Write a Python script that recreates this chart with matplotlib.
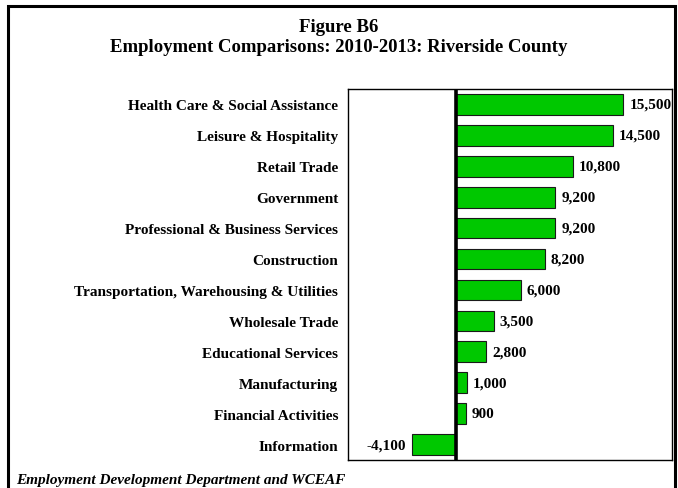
import matplotlib.pyplot as plt
from matplotlib.patches import Rectangle

plt.rcParams['font.family'] = ['Liberation Serif', 'DejaVu Serif']

categories = ['Health Care & Social Assistance', 'Leisure & Hospitality', 'Retail Trade',
              'Government', 'Professional & Business Services', 'Construction',
              'Transportation, Warehousing & Utilities', 'Wholesale Trade',
              'Educational Services', 'Manufacturing', 'Financial Activities', 'Information']
changes = [15500, 14500, 10800, 9200, 9200, 8200, 6000, 3500, 2800, 1000, 900, -4100]

fig = plt.figure(figsize=(6.78, 4.89), dpi=100)
# plot box in pixels: x 348..672, y 90..461
W, H = 678, 489
ax = fig.add_axes([348 / W, 1 - 461 / H, (672 - 348) / W, (461 - 90) / H])

ypos = list(range(len(categories)))
ax.barh(ypos, changes, height=0.67, color='#00c800', edgecolor='#1a1a1a', linewidth=0.8, zorder=2)
ax.axvline(0, color='black', linewidth=2.6, zorder=3)

ax.set_xlim(-10000, 20000)
ax.set_ylim(len(categories) - 0.5, -0.5)
ax.set_xticks([])
ax.set_yticks(ypos)
ax.set_yticklabels(categories, fontsize=11, fontweight='bold')
ax.tick_params(axis='y', length=0, pad=7)
for s in ax.spines.values():
    s.set_linewidth(1.0)

for y, v in zip(ypos, changes):
    txt = f'{v:,}'
    if v >= 0:
        ax.text(v + 550, y, txt, va='center', ha='left', fontsize=11, fontweight='bold')
    else:
        ax.text(v - 550, y, txt, va='center', ha='right', fontsize=11, fontweight='bold')

fig.text(0.5, 1 - 27 / H, 'Figure B6', ha='center', va='center', fontsize=13.5, fontweight='bold')
fig.text(0.5, 1 - 48 / H, 'Employment Comparisons: 2010-2013: Riverside County',
         ha='center', va='center', fontsize=13.5, fontweight='bold')
fig.text(16 / W, 1 - 481 / H, 'Employment Development Department and WCEAF',
         ha='left', va='center', fontsize=11, fontweight='bold', style='italic')

# outer frame
fig.patches.append(Rectangle((8 / W, -0.05), (675 - 8) / W, 1.05 - 7 / H,
                             transform=fig.transFigure, fill=False,
                             edgecolor='black', linewidth=2.2))

fig.savefig('out.png', dpi=100)
